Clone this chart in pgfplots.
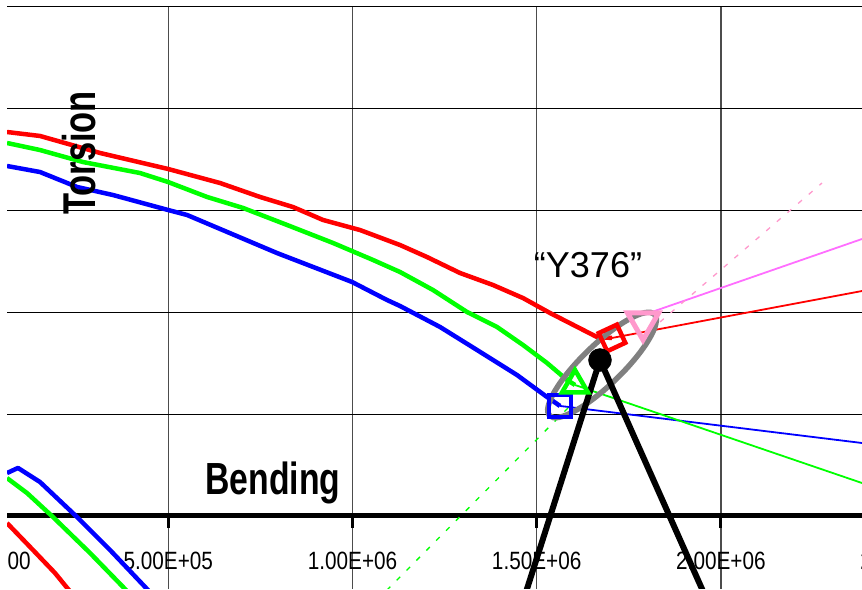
\documentclass[border=0pt]{standalone}
\usepackage{fontspec}
\setmainfont{Liberation Sans}
\usepackage{graphicx}
\usepackage{pgfplots}
\pgfplotsset{compat=1.18}
\definecolor{xred}{RGB}{255,0,0}
\definecolor{xgreen}{RGB}{0,255,0}
\definecolor{xblue}{RGB}{0,0,255}
\definecolor{xpink}{RGB}{255,110,255}
\definecolor{xpinkl}{RGB}{255,153,204}
\definecolor{xgray}{RGB}{128,128,128}
\newcommand{\tl}[1]{\scalebox{0.83}[1]{#1}}
\begin{document}
\begin{tikzpicture}
\useasboundingbox (0,0) rectangle (862pt,589pt);
\clip (7pt,0pt) rectangle (862pt,589pt);
\begin{axis}[
  at={(7pt,0pt)}, anchor=south west, scale only axis,
  width=855pt, height=582pt,
  xmin=0.06216, xmax=2.38301, ymin=-0.71709, ymax=5,
  axis x line=middle, axis y line=left,
  x axis line style={-, line width=5pt, black},
  y axis line style={draw=none},
  tick align=outside, major tick length=12pt,
  xtick={0.5,1,1.5,2},
  xticklabels={\tl{5.00E+05},\tl{1.00E+06},\tl{1.50E+06},\tl{2.00E+06}},
  xtick style={line width=3pt, black},
  xticklabel style={font=\fontsize{25}{25}\selectfont, anchor=base, yshift=-41pt},
  ytick={1,2,3,4}, yticklabels={}, ytick style={draw=none},
  extra y ticks={5}, extra y tick labels={},
  extra y tick style={ymajorgrids, major grid style={black!45, line width=1.6pt}},
  xmajorgrids, ymajorgrids,
  x grid style={black!70, line width=1.3pt},
  y grid style={black, line width=1pt},
]
% thin extension lines
\addplot[xred, line width=1.8pt] coordinates {(1.7044,1.749) (2.3830,2.210)};
\addplot[xblue, line width=1.8pt] coordinates {(1.5633,1.081) (2.3830,0.717)};
\addplot[xgreen, line width=1.8pt] coordinates {(1.6040,1.287) (2.3830,0.324)};
\addplot[xpink, line width=1.8pt] coordinates {(1.7886,1.974) (2.3830,2.721)};
\addplot[xgreen, line width=1.3pt, dash pattern=on 5pt off 9pt] coordinates {(1.5850,1.061) (1.1235,-0.619) (1.0883,-0.747)};
\addplot[xpinkl, line width=1.3pt, dash pattern=on 5pt off 9pt] coordinates {(1.8347,1.906) (2.2744,3.271)};
% thick curves (upper)
\addplot[xred, line width=4.5pt, line join=round] coordinates {
(0.0622,3.772) (0.1517,3.733) (0.3146,3.566) (0.4992,3.409) (0.6403,3.271)
(0.7489,3.134) (0.8385,3.035) (0.9199,2.908) (1.0204,2.809) (1.1289,2.662)
(1.2022,2.544) (1.2918,2.387) (1.3814,2.269) (1.4628,2.141) (1.5361,1.994)
(1.6637,1.758) (1.7044,1.749)};
\addplot[xgreen, line width=4.5pt, line join=round] coordinates {
(0.0622,3.664) (0.1517,3.595) (0.2685,3.477) (0.4232,3.369) (0.4992,3.281)
(0.6051,3.134) (0.7028,3.026) (0.8222,2.859) (0.9471,2.682) (1.0557,2.515)
(1.1289,2.397) (1.2185,2.220) (1.3108,2.004) (1.3922,1.857) (1.4628,1.680)
(1.5280,1.503) (1.5823,1.336) (1.6040,1.287)};
\addplot[xblue, line width=4.5pt, line join=round] coordinates {
(0.0622,3.438) (0.1517,3.379) (0.2522,3.232) (0.3499,3.153) (0.4992,3.006)
(0.5508,2.957) (0.7951,2.583) (0.9986,2.299) (1.0936,2.122) (1.1289,2.063)
(1.2375,1.857) (1.3379,1.631) (1.4465,1.385) (1.5280,1.169) (1.5633,1.081)};
% thick curves (lower left)
\addplot[xblue, line width=4.5pt, line join=round] coordinates {
(0.0622,0.422) (0.0920,0.472) (0.1517,0.334) (0.2522,-0.010) (0.3418,-0.334) (0.4422,-0.717) (0.4563,-0.776)};
\addplot[xgreen, line width=4.5pt, line join=round] coordinates {
(0.0622,0.373) (0.1164,0.226) (0.1870,-0.010) (0.2874,-0.363) (0.3825,-0.717) (0.3988,-0.776)};
\addplot[xred, line width=4.5pt, line join=round] coordinates {
(0.0622,-0.069) (0.1327,-0.334) (0.1924,-0.560) (0.2278,-0.717) (0.2414,-0.776)};
% end markers
\addplot[only marks, mark=square, mark size=11pt, mark options={draw=xblue, fill=white, line width=4.5pt}] coordinates {(1.5633,1.081)};
\addplot[only marks, mark=triangle, mark size=15pt, mark options={draw=xgreen, fill=white, line width=4.5pt}] coordinates {(1.6040,1.287)};
\addplot[only marks, mark=square, mark size=10pt, mark options={draw=xred, fill=white, line width=4.5pt, rotate=25}] coordinates {(1.7044,1.749)};
\addplot[only marks, mark=triangle, mark size=18pt, mark options={draw=xpinkl, fill=white, line width=5pt, rotate=180}] coordinates {(1.7886,1.906)};
% annotation
\draw[xgray, line width=5.5pt, rotate around={44:(axis cs:1.6773,1.4833)}] (axis cs:1.6773,1.4833) ellipse [x radius=73pt, y radius=20pt];
\addplot[black, line width=6pt, line join=round] coordinates {(1.4641,-0.825) (1.6718,1.532) (1.9620,-0.825)};
\addplot[only marks, mark=*, mark size=11.5pt, black] coordinates {(1.6718,1.532)};
\end{axis}
\node[anchor=base, font=\fontsize{25}{25}\selectfont] at (-14pt,19pt) {\tl{0.00E+00}};
\node[anchor=base, font=\fontsize{25}{25}\selectfont] at (905.1pt,19pt) {\tl{2.50E+06}};
\node[rotate=90, anchor=base, font=\fontsize{46}{46}\selectfont\bfseries] at (95pt,436pt) {\scalebox{0.75}[1]{Torsion}};
\node[anchor=base, font=\fontsize{45}{45}\selectfont\bfseries] at (273pt,94pt) {\scalebox{0.75}[1]{Bending}};
\node[anchor=base, font=\fontsize{36}{36}\selectfont] at (588pt,311pt) {“Y376”};
\end{tikzpicture}
\end{document}
